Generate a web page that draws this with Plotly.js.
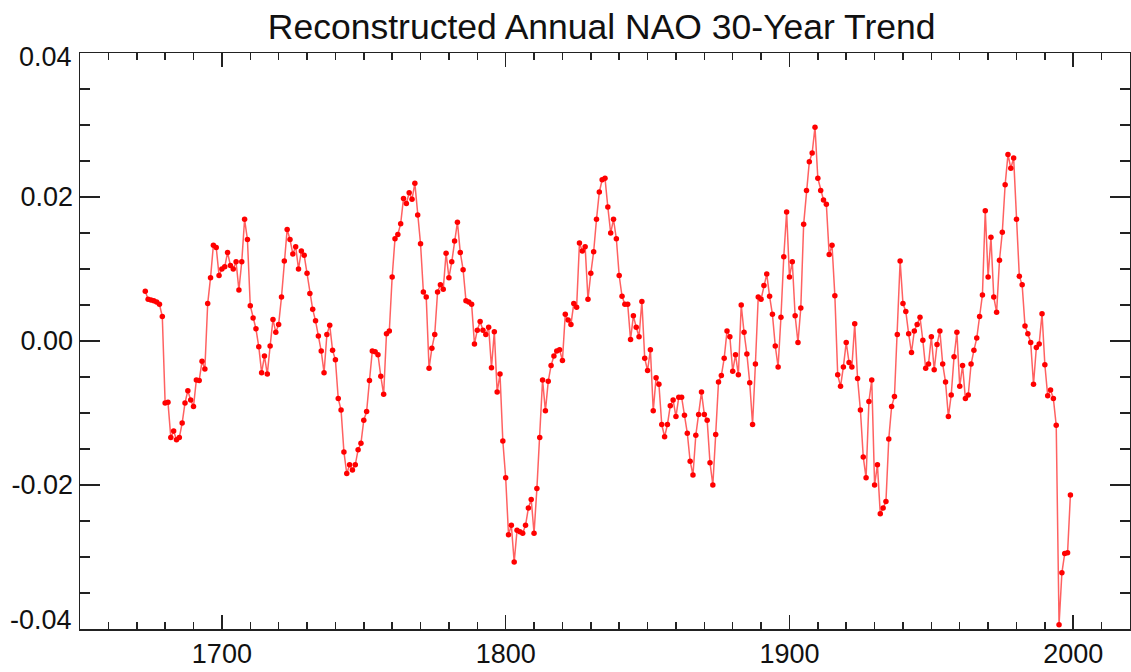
<!DOCTYPE html>
<html>
<head>
<meta charset="utf-8">
<script src="https://cdn.plot.ly/plotly-3.0.1.min.js"></script>
<style>html,body{margin:0;padding:0;background:#fff;}#chart{width:1131px;height:672px;}</style>
</head>
<body>
<div id="chart"></div>
<script>
// First year of the series (annual values follow one per year)
const startYear = 1673;

// Reconstructed annual NAO 30-year trend, 1673-1999
const trendValues = [
  // 1673-1679
  0.0069, 0.0058, 0.0057, 0.0056, 0.0054, 0.0051, 0.0034,
  // 1680s
  -0.0086, -0.0085, -0.0134, -0.0125, -0.0137, -0.0134, -0.0114, -0.0086, -0.0069, -0.0082,
  // 1690s
  -0.0091, -0.0054, -0.0055, -0.0028, -0.0039, 0.0052, 0.0088, 0.0133, 0.0130, 0.0091,
  // 1700s
  0.0100, 0.0103, 0.0123, 0.0105, 0.0100, 0.0110, 0.0071, 0.0110, 0.0169, 0.0141,
  // 1710s
  0.0049, 0.0032, 0.0017, -0.0008, -0.0044, -0.0021, -0.0046, -0.0007, 0.0030, 0.0012,
  // 1720s
  0.0023, 0.0061, 0.0111, 0.0155, 0.0141, 0.0121, 0.0131, 0.0100, 0.0125, 0.0119,
  // 1730s
  0.0094, 0.0066, 0.0044, 0.0028, 0.0007, -0.0014, -0.0044, 0.0009, 0.0022, -0.0013,
  // 1740s
  -0.0026, -0.0080, -0.0096, -0.0154, -0.0184, -0.0172, -0.0179, -0.0172, -0.0151, -0.0142,
  // 1750s
  -0.0110, -0.0098, -0.0055, -0.0014, -0.0015, -0.0019, -0.0049, -0.0074, 0.0010, 0.0014,
  // 1760s
  0.0089, 0.0142, 0.0148, 0.0163, 0.0198, 0.0191, 0.0206, 0.0197, 0.0219, 0.0175,
  // 1770s
  0.0135, 0.0068, 0.0061, -0.0038, -0.0010, 0.0009, 0.0068, 0.0078, 0.0072, 0.0122,
  // 1780s
  0.0088, 0.0110, 0.0139, 0.0165, 0.0123, 0.0099, 0.0056, 0.0054, 0.0051, -0.0004,
  // 1790s
  0.0015, 0.0027, 0.0015, 0.0009, 0.0019, -0.0037, 0.0013, -0.0071, -0.0046, -0.0139,
  // 1800s
  -0.0190, -0.0269, -0.0256, -0.0307, -0.0263, -0.0265, -0.0267, -0.0256, -0.0232, -0.0220,
  // 1810s
  -0.0267, -0.0205, -0.0134, -0.0054, -0.0097, -0.0056, -0.0034, -0.0021, -0.0014, -0.0012,
  // 1820s
  -0.0027, 0.0037, 0.0029, 0.0023, 0.0052, 0.0047, 0.0136, 0.0125, 0.0131, 0.0058,
  // 1830s
  0.0094, 0.0124, 0.0169, 0.0207, 0.0224, 0.0226, 0.0186, 0.0150, 0.0169, 0.0142,
  // 1840s
  0.0091, 0.0062, 0.0051, 0.0051, 0.0002, 0.0035, 0.0019, 0.0006, 0.0055, -0.0024,
  // 1850s
  -0.0041, -0.0012, -0.0097, -0.0051, -0.0060, -0.0116, -0.0133, -0.0116, -0.0090, -0.0082,
  // 1860s
  -0.0105, -0.0078, -0.0078, -0.0103, -0.0128, -0.0167, -0.0186, -0.0131, -0.0102, -0.0071,
  // 1870s
  -0.0102, -0.0110, -0.0169, -0.0200, -0.0130, -0.0057, -0.0048, -0.0024, 0.0014, 0.0006,
  // 1880s
  -0.0042, -0.0019, -0.0047, 0.0050, 0.0012, -0.0018, -0.0058, -0.0116, -0.0032, 0.0061,
  // 1890s
  0.0058, 0.0077, 0.0093, 0.0062, 0.0037, -0.0007, -0.0036, 0.0033, 0.0117, 0.0179,
  // 1900s
  0.0089, 0.0110, 0.0035, -0.0002, 0.0046, 0.0162, 0.0209, 0.0249, 0.0261, 0.0297,
  // 1910s
  0.0226, 0.0209, 0.0196, 0.0190, 0.0120, 0.0133, 0.0063, -0.0047, -0.0063, -0.0036,
  // 1920s
  -0.0002, -0.0030, -0.0036, 0.0024, -0.0052, -0.0096, -0.0161, -0.0190, -0.0084, -0.0054,
  // 1930s
  -0.0200, -0.0172, -0.0240, -0.0232, -0.0223, -0.0136, -0.0091, -0.0077, 0.0009, 0.0111,
  // 1940s
  0.0052, 0.0041, 0.0010, -0.0016, 0.0014, 0.0023, 0.0033, 0.0001, -0.0038, -0.0032,
  // 1950s
  0.0006, -0.0040, -0.0005, 0.0014, -0.0032, -0.0057, -0.0105, -0.0075, -0.0022, 0.0012,
  // 1960s
  -0.0063, -0.0034, -0.0080, -0.0075, -0.0032, -0.0013, 0.0004, 0.0034, 0.0064, 0.0181,
  // 1970s
  0.0089, 0.0144, 0.0061, 0.0040, 0.0112, 0.0151, 0.0217, 0.0259, 0.0240, 0.0254,
  // 1980s
  0.0169, 0.0090, 0.0078, 0.0021, 0.0010, -0.0002, -0.0060, -0.0009, -0.0004, 0.0038,
  // 1990s
  -0.0033, -0.0076, -0.0068, -0.0080, -0.0117, -0.0394, -0.0322, -0.0295, -0.0294, -0.0214
];

const years = trendValues.map((_, i) => startYear + i);

// Axis tick labels (the two end labels are drawn as annotations, nudged inward like the original)
const yTickVals = [-0.04, -0.02, 0.00, 0.02, 0.04];
const yTickText = ['', '-0.02', '0.00', '0.02', ''];
const yEndVals = [0.04, -0.04];
const yEndText = ['0.04', '-0.04'];
const xTickVals = [1700, 1800, 1900, 2000];
const xTickText = ['1700', '1800', '1900', '2000'];

const trace = {
  x: years,
  y: trendValues,
  type: 'scatter',
  mode: 'lines+markers',
  line: {color: 'rgba(255,30,30,0.7)', width: 1.5},
  marker: {color: '#ff0000', size: 5.5},
  hoverinfo: 'x+y'
};

const fontFamily = '"Liberation Sans", Arial, sans-serif';
const tickFont = {family: fontFamily, size: 27, color: '#111'};

const layout = {
  width: 1131,
  height: 672,
  margin: {l: 80, r: 1, t: 53, b: 43},
  paper_bgcolor: '#ffffff',
  plot_bgcolor: '#ffffff',
  showlegend: false,
  title: {
    text: 'Reconstructed Annual NAO 30-Year Trend',
    font: {family: fontFamily, size: 35.5, color: '#111'},
    x: 0.532, xanchor: 'center',
    y: 0.96, yanchor: 'middle'
  },
  xaxis: {
    range: [1650, 2020],
    tickmode: 'array', tickvals: xTickVals, ticktext: xTickText,
    ticks: 'inside', ticklen: 14, tickwidth: 1.5, tickcolor: '#222',
    showline: true, linecolor: '#222', linewidth: 1.5, mirror: 'ticks',
    showgrid: false, zeroline: false,
    tickfont: tickFont,
    minor: {tickmode: 'linear', tick0: 1650, dtick: 10, ticks: 'inside', ticklen: 7, tickwidth: 1.5, tickcolor: '#222', showgrid: false}
  },
  yaxis: {
    range: [-0.04, 0.04],
    tickmode: 'array', tickvals: yTickVals, ticktext: yTickText,
    ticks: 'inside', ticklen: 20, tickwidth: 1.5, tickcolor: '#222',
    showline: true, linecolor: '#222', linewidth: 1.5, mirror: 'ticks',
    showgrid: false, zeroline: false,
    tickfont: tickFont,
    minor: {tickmode: 'linear', tick0: 0, dtick: 0.005, ticks: 'inside', ticklen: 10, tickwidth: 1.5, tickcolor: '#222', showgrid: false}
  },
  annotations: yEndVals.map((v, i) => ({
    xref: 'paper', yref: 'y', x: 0, y: v,
    text: yEndText[i], showarrow: false,
    xanchor: 'right', yanchor: 'middle',
    xshift: -6, yshift: v > 0 ? -4 : 9,
    font: tickFont
  }))
};

Plotly.newPlot('chart', [trace], layout, {displayModeBar: false, staticPlot: true});
</script>
</body>
</html>
